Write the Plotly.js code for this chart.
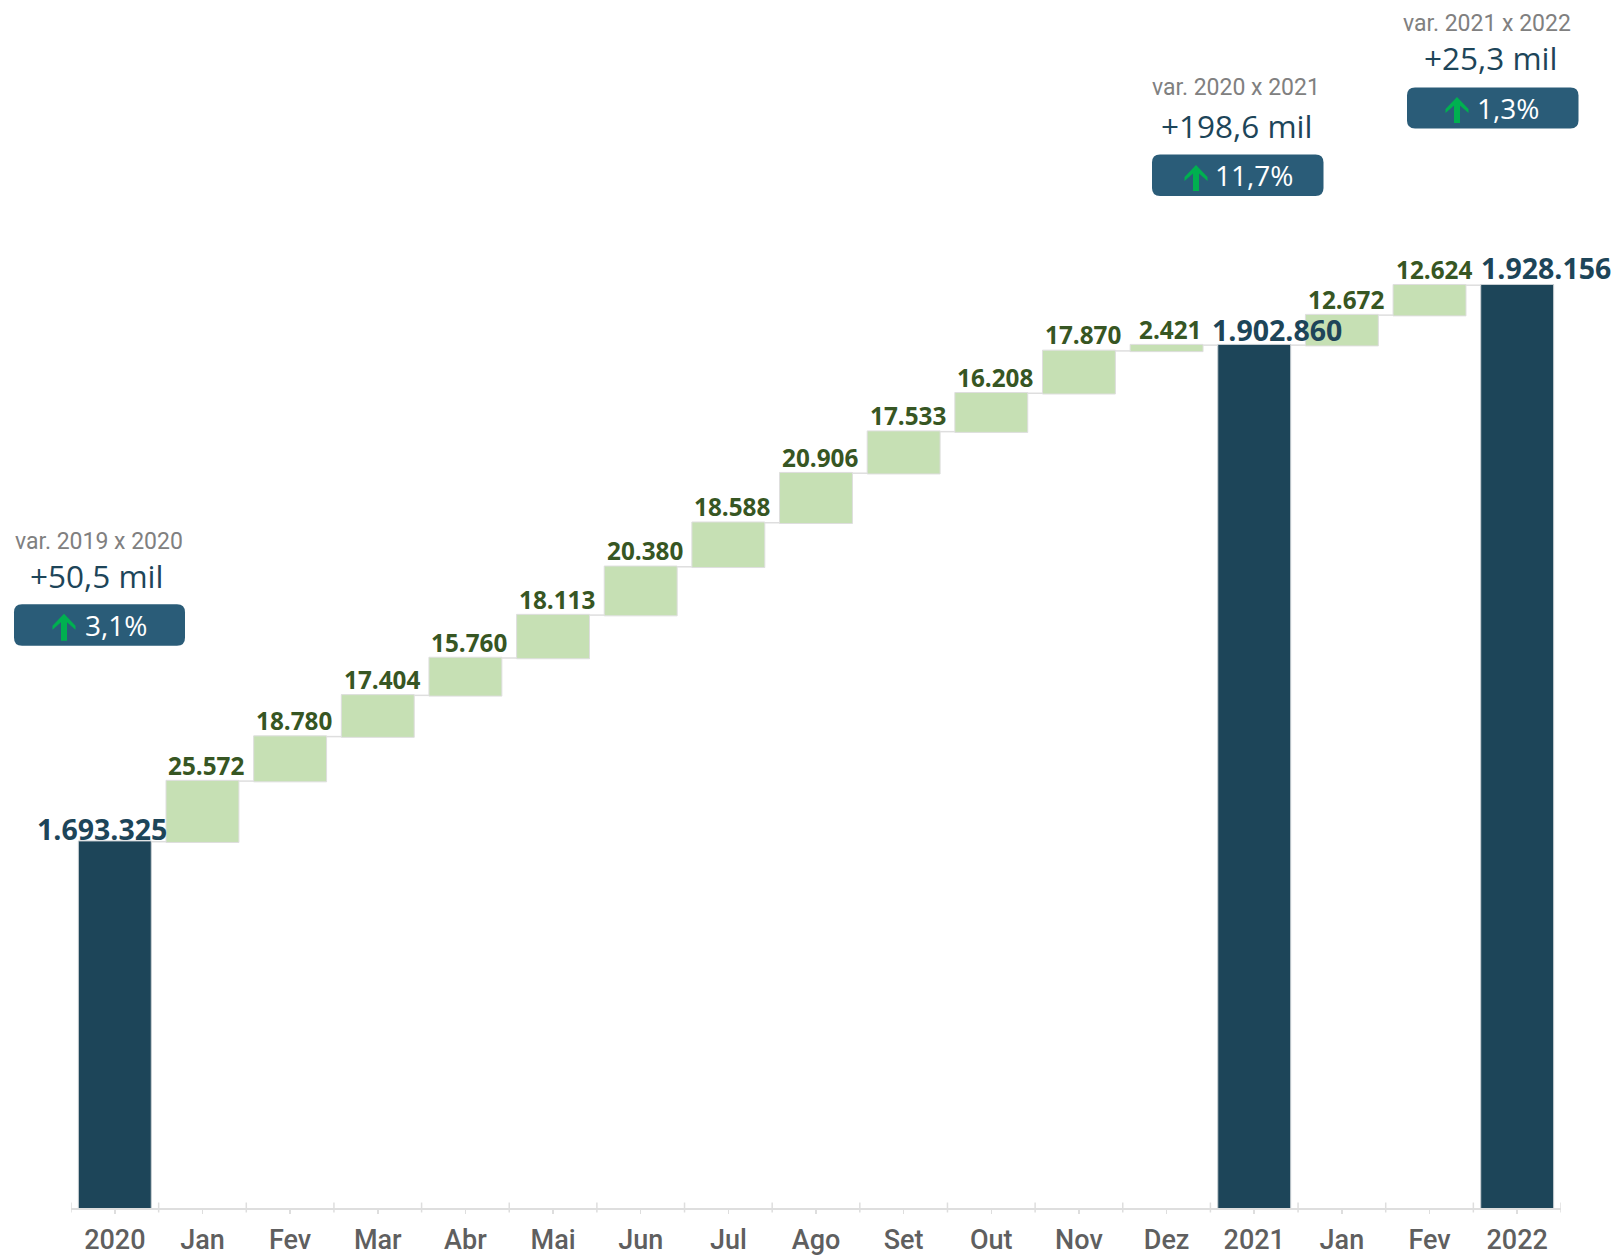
<!DOCTYPE html>
<html><head><meta charset="utf-8">
<script src="https://cdn.plot.ly/plotly-3.0.1.min.js"></script>
<style>html,body{margin:0;padding:0;background:#fff}#c{width:1615px;height:1255px}</style>
</head><body><div id="c"></div>
<script>
const categories = ["2020","Jan","Fev","Mar","Abr","Mai","Jun","Jul","Ago","Set","Out","Nov","Dez","2021","Jan","Fev","2022"];
const values = [1693325,25572,18780,17404,15760,18113,20380,18588,20906,17533,16208,17870,2421,1902860,12672,12624,1928156];
const measures = ["absolute","relative","relative","relative","relative","relative","relative","relative","relative","relative","relative","relative","relative","total","relative","relative","total"];
const valueLabels = ["1.693.325","25.572","18.780","17.404","15.760","18.113","20.380","18.588","20.906","17.533","16.208","17.870","2.421","1.902.860","12.672","12.624","1.928.156"];
const calloutTitles = ["var. 2019 x 2020","var. 2020 x 2021","var. 2021 x 2022"];
const calloutDeltas = ["+50,5 mil","+198,6 mil","+25,3 mil"];
const calloutPercents = ["3,1%","11,7%","1,3%"];

const W=1615,H=1255,L=71,R=1561,B=1208.5;
const toX=p=>(p-L)/(R-L), toY=p=>(B-p)/B;
const indices=categories.map((_,i)=>i);
const DARK='#1D4559',GREEN='#C6E0B4',EDGE='#DEDEDE',LGREEN='#375623',BADGE='#2A5C78',ARROW='#00B050';

const annotations=[], shapes=[];
const totalShift={0:[-13,13],13:[22.5,15],16:[29,17]};
let run=0;
values.forEach((v,i)=>{
  const isTotal=measures[i]!=='relative';
  run=isTotal?v:run+v;
  const s=isTotal?totalShift[i]:[4,16];
  annotations.push({xref:'x',yref:'y',x:i,y:run,xshift:s[0],yshift:s[1],yanchor:'middle',xanchor:'center',showarrow:false,
    text:'<b>'+valueLabels[i]+'</b>',
    font:{family:'Open Sans',size:isTotal?28.5:24.3,color:isTotal?DARK:LGREEN}});
});
const calloutPlace=[
 {tx:99,ty:542,dx:96.5,dy:576,bx:[14,185],by:[604.5,646],ax:64,ay:[614,641],px:115.5,py:625.5},
 {tx:1236,ty:88,dx:1236,dy:126,bx:[1152,1323.5],by:[154.5,196],ax:1196,ay:[165,191],px:1253.5,py:175.5},
 {tx:1487,ty:24,dx:1490,dy:58,bx:[1407,1578.5],by:[87.5,128.5],ax:1457,ay:[97,123],px:1507.5,py:108}
];
const txt=(t,x,y,size,color,family)=>annotations.push({xref:'paper',yref:'paper',x:toX(x),y:toY(y),xanchor:'center',yanchor:'middle',showarrow:false,text:t,font:{family,size,color}});
calloutPlace.forEach((c,i)=>{
  txt(calloutTitles[i],c.tx,c.ty,23,'#808080','Roboto');
  txt(calloutDeltas[i],c.dx,c.dy,31.5,DARK,'Open Sans');
  txt(calloutPercents[i],c.px,c.py,28,'#FFFFFF','Open Sans');
  const [x0,x1]=c.bx,[y0,y1]=c.by,r=8;
  const px=toX,py=toY;
  shapes.push({type:'path',xref:'paper',yref:'paper',layer:'below',line:{width:0},fillcolor:BADGE,
    path:`M${px(x0+r)},${py(y0)} L${px(x1-r)},${py(y0)} Q${px(x1)},${py(y0)} ${px(x1)},${py(y0+r)} L${px(x1)},${py(y1-r)} Q${px(x1)},${py(y1)} ${px(x1-r)},${py(y1)} L${px(x0+r)},${py(y1)} Q${px(x0)},${py(y1)} ${px(x0)},${py(y1-r)} L${px(x0)},${py(y0+r)} Q${px(x0)},${py(y0)} ${px(x0+r)},${py(y0)} Z`});
  const a=c.ax,[t,b]=c.ay;
  shapes.push({type:'path',xref:'paper',yref:'paper',line:{width:0},fillcolor:ARROW,
    path:`M${px(a)},${py(t)} L${px(a+11.5)},${py(t+12)} L${px(a+11.5)},${py(t+16)} L${px(a+3)},${py(t+8.5)} L${px(a+3)},${py(b)} L${px(a-3)},${py(b)} L${px(a-3)},${py(t+8.5)} L${px(a-11.5)},${py(t+16)} L${px(a-11.5)},${py(t+12)} Z`});
});
for(let i=0;i<=categories.length;i++){
  shapes.push({type:'line',xref:'x',yref:'paper',x0:i-0.5,x1:i-0.5,y0:toY(1203),y1:toY(1213),line:{color:EDGE,width:1.5},layer:'below'});
}

Plotly.newPlot('c',[{
  type:'waterfall',x:indices,y:values,measure:measures,width:0.832,
  base:0,
  increasing:{marker:{color:GREEN,line:{color:EDGE,width:1}}},
  decreasing:{marker:{color:GREEN,line:{color:EDGE,width:1}}},
  totals:{marker:{color:DARK,line:{color:'#C9CFD3',width:1}}},
  connector:{line:{color:EDGE,width:1.5},mode:'between',visible:true},
  hoverinfo:'skip',text:[],textposition:'none',cliponaxis:true
}],{
  width:W,height:H,showlegend:false,paper_bgcolor:'#fff',plot_bgcolor:'#fff',
  margin:{l:L,r:W-R,t:0,b:H-B,pad:0},
  xaxis:{type:'linear',range:[-0.5,16.5],tickmode:'array',tickvals:indices,ticktext:categories,
    ticks:'outside',ticklen:4,tickwidth:1.5,tickcolor:EDGE,showline:true,linecolor:EDGE,linewidth:2,showgrid:false,zeroline:false,
    ticklabelstandoff:3,
    tickfont:{family:'Roboto',size:27,weight:500,color:'#5F5F5F'},fixedrange:true},
  yaxis:{range:[1538750,2048515],visible:false,showgrid:false,zeroline:false,fixedrange:true},
  annotations,shapes
},{displayModeBar:false,staticPlot:true});
</script></body></html>
